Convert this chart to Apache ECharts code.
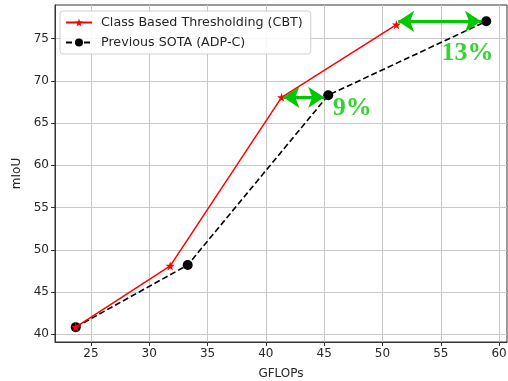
<!DOCTYPE html>
<html>
<head>
<meta charset="utf-8">
<script src="https://cdn.jsdelivr.net/npm/echarts@6/dist/echarts.min.js"></script>
<style>
  html, body { margin: 0; padding: 0; background: #fff; }
  #chart { width: 508px; height: 381px; }
</style>
</head>
<body>
<div id="chart"></div>
<script>
// data
const cbtGflops = [23.7, 31.8, 41.35, 51.2];
const cbtMiou = [40.85, 48.1, 68.05, 76.65];
const sotaGflops = [23.7, 33.3, 45.35, 58.9];
const sotaMiou = [40.85, 48.2, 68.3, 77.05];

const xTicks = [25, 30, 35, 40, 45, 50, 55, 60];
const yTicks = [40, 45, 50, 55, 60, 65, 70, 75];

// green arrows: [x0, x1, y]
const arrows = [
  [41.5, 45.0, 68.05],
  [51.35, 58.45, 77.05]
];
const gainLabels = ['9%', '13%'];
const gainPos = [[47.4, 66.8], [57.3, 73.3]];

const green = '#00c800';
const tickFont = { fontFamily: 'DejaVu Sans', fontSize: 12, color: '#262626' };

const chart = echarts.init(document.getElementById('chart'));

chart.setOption({
  animation: false,
  grid: {
    left: 55, right: 1, top: 5, bottom: 39,
    outerBoundsMode: 'none',
    containLabel: false,
    show: true, borderColor: '#333', borderWidth: 1
  },
  legend: {
    orient: 'vertical',
    left: 60,
    top: 11,
    padding: [5, 8, 5, 5],
    itemWidth: 26,
    itemHeight: 10,
    itemGap: 7,
    borderColor: '#d0d0d0',
    borderWidth: 1,
    borderRadius: 3,
    backgroundColor: 'rgba(255,255,255,0.85)',
    textStyle: { fontFamily: 'DejaVu Sans', fontSize: 12.7, color: '#262626', padding: [0, 0, 0, 4] },
    data: ['Class Based Thresholding (CBT)', 'Previous SOTA (ADP-C)']
  },
  xAxis: {
    type: 'value',
    min: 21.92,
    max: 60.68,
    name: 'GFLOPs',
    nameLocation: 'middle',
    nameGap: 26,
    nameTextStyle: tickFont,
    axisLine: { show: true, onZero: false, lineStyle: { color: '#333', width: 1 } },
    axisTick: { show: true, customValues: xTicks, length: 4, lineStyle: { color: '#333' } },
    axisLabel: { customValues: xTicks, margin: 6, ...tickFont },
    splitLine: { show: true, lineStyle: { color: '#c8c8c8', width: 1 } }
  },
  yAxis: {
    type: 'value',
    min: 39.09,
    max: 78.98,
    name: 'mIoU',
    nameLocation: 'middle',
    nameGap: 30,
    nameTextStyle: tickFont,
    axisLine: { show: true, onZero: false, lineStyle: { color: '#333', width: 1 } },
    axisTick: { show: true, customValues: yTicks, length: 4, lineStyle: { color: '#333' } },
    axisLabel: { customValues: yTicks, margin: 6, ...tickFont },
    splitLine: { show: true, lineStyle: { color: '#c8c8c8', width: 1 } }
  },
  series: [
    {
      name: 'Class Based Thresholding (CBT)',
      type: 'line',
      data: cbtGflops.map((x, i) => [x, cbtMiou[i]]),
      symbol: 'path://M0,-10L2.35,-3.24L9.51,-3.09L3.8,1.24L5.88,8.09L0,4L-5.88,8.09L-3.8,1.24L-9.51,-3.09L-2.35,-3.24Z',
      symbolSize: 9,
      itemStyle: { color: '#ff0000' },
      lineStyle: { color: '#ff0000', width: 1.5 },
      z: 3
    },
    {
      name: 'Previous SOTA (ADP-C)',
      type: 'line',
      data: sotaGflops.map((x, i) => [x, sotaMiou[i]]),
      symbol: 'circle',
      symbolSize: 10,
      itemStyle: { color: '#000' },
      lineStyle: { color: '#000', width: 1.6, type: [6, 3] },
      z: 2
    },
    {
      name: 'gain',
      type: 'scatter',
      data: gainPos.map((p, i) => ({ value: p, label: { formatter: gainLabels[i] } })),
      symbolSize: 0,
      silent: true,
      label: {
        show: true,
        position: 'inside',
        fontFamily: 'Liberation Serif',
        fontWeight: 'bold',
        fontSize: 26,
        color: green
      },
      markLine: {
        silent: true,
        symbol: ['arrow', 'arrow'],
        symbolSize: [16, 16],
        label: { show: false },
        lineStyle: { color: green, width: 3, type: 'solid' },
        data: arrows.map(a => [{ coord: [a[0], a[2]] }, { coord: [a[1], a[2]] }])
      },
      z: 5
    }
  ]
});
</script>
</body>
</html>
